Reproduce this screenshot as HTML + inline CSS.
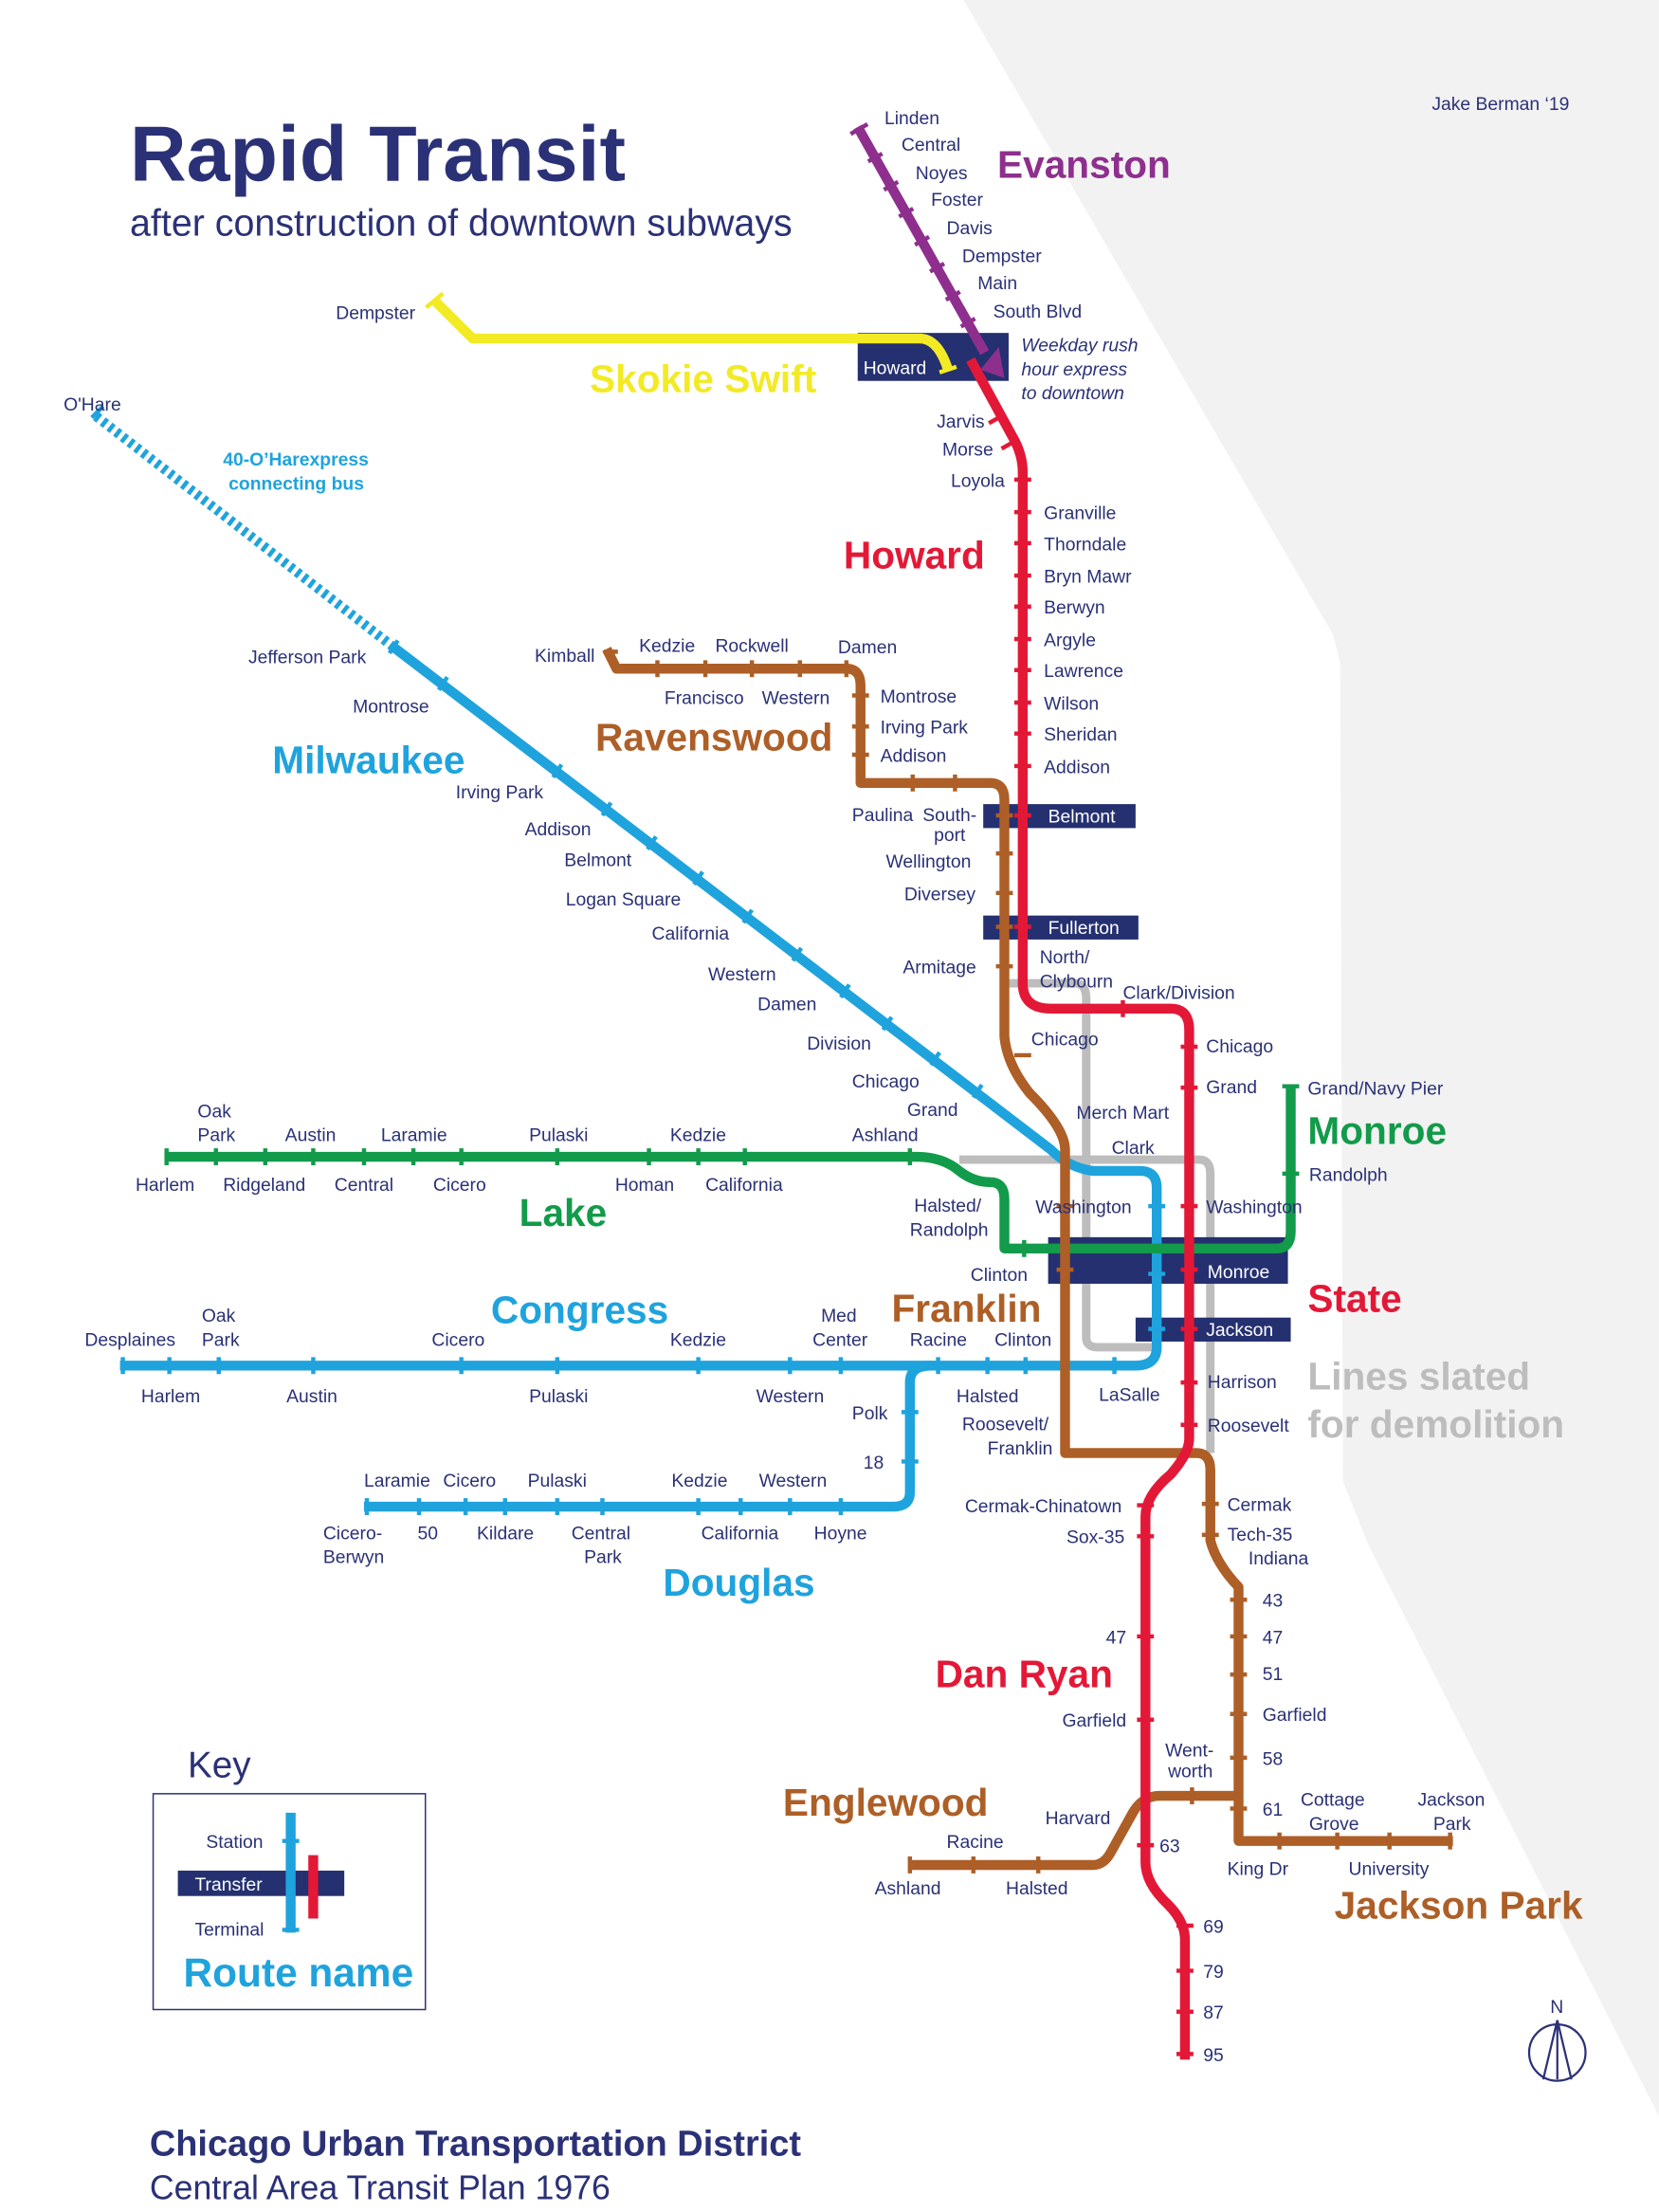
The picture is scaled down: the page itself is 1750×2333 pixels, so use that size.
<!DOCTYPE html>
<html><head><meta charset="utf-8"><style>
html,body{margin:0;padding:0;background:#fff}
svg{display:block}
text{font-family:"Liberation Sans",sans-serif}
.s{font-size:13px;fill:#2b3176}
.w{font-size:13px;fill:#fff}
.r{font-size:27.3px;font-weight:bold}
</style></head><body>
<svg width="1750" height="2333" viewBox="0 0 1176 1568" xmlns="http://www.w3.org/2000/svg">
<rect width="1176" height="1568" fill="#fff"/>
<polygon points="683,0 1176,0 1176,1500 970,1095 952,1050 950,470 945,450" fill="#f2f2f2"/>

<g fill="none" stroke="#bdbdbd" stroke-width="6">
<path d="M712,697 H762 Q770,697 770,708 V948 Q770,955 778,955 H820"/>
<path d="M680,822 H850 Q858,822 858,832 V1030"/>
</g>

<g fill="#253070">
<rect x="608" y="236" width="107" height="34"/>
<rect x="697" y="570" width="108" height="17"/>
<rect x="697" y="649" width="110" height="17"/>
<rect x="743" y="877" width="170" height="33"/>
<rect x="805" y="934" width="110" height="17"/>
</g>

<g fill="none" stroke-width="7" stroke-linejoin="round" stroke-linecap="butt">
<path d="M308,213 L335,240 H652 Q665,240 672,262" stroke="#f3ea26"/>
<path d="M608,90 L698,250" stroke="#8e2f8e"/>
<path d="M68,295 L278,458" stroke="#1fa3dd" stroke-dasharray="3,3"/>
<path d="M278,458 L745,815 Q758,828 775,830 H808 Q820,830 820,842 V955 Q820,968 805,968 H85" stroke="#1fa3dd"/>
<path d="M660,968 Q645,968 645,980 V1058 Q645,1068 633,1068 H258" stroke="#1fa3dd"/>
<path d="M118,820 H650 Q668,820 680,830 Q690,838 702,838 Q712,838 712,850 V885 H905 Q915,885 915,873 V770" stroke="#129b4a"/>
<path d="M430,460 L437,474 H600 Q610,474 610,486 V555 H702 Q712,555 712,567 V735 Q714,755 730,775 Q755,800 755,815 V1030 H848 Q858,1030 858,1042 V1092 Q862,1108 878,1125 V1305 H1030" stroke="#ad5f27"/>
<path d="M645,1322 H775 Q783,1322 788,1312 L803,1285 Q810,1273 822,1273 H878" stroke="#ad5f27"/>
<path d="M688,255 L718,310 Q725,322 725,335 V697 Q725,715 745,715 H830 Q843,715 843,730 V1020 Q843,1030 830,1045 Q812,1060 812,1075 V1320 Q812,1335 828,1350 Q840,1362 840,1375 V1460" stroke="#e31837"/>
</g>
<polygon points="695,262 712,268 708,246" fill="#8e2f8e"/>

<g stroke-width="3" fill="none">
<g stroke="#8e2f8e"><path d="M603,95 l12,-7 M615.4,114.5 l10,-5.6 M626.6,134.5 l10,-5.6 M637.3,153.5 l10,-5.6 M648.6,173.5 l10,-5.6 M659.3,192.5 l10,-5.6 M670.5,212.5 l10,-5.6 M681.2,231.5 l10,-5.6"/></g>
<g stroke="#f3ea26"><path d="M302,218 l12,-10 M666,264 l12,-4"/></g>
<g stroke="#e31837"><path d="M701,300 l10,-5.6 M710,318 l10,-5.6 M719,340 h12 M719,363 h12 M719,385 h12 M719,408 h12 M719,430 h12 M719,453 h12 M719,475 h12 M719,498 h12 M719,520 h12 M719,543 h12 M719,578 h12 M719,657 h12 M796,709 v12 M837,742 h12 M837,771 h12 M837,855 h12 M837,900 h12 M837,942 h12 M837,980 h12 M837,1010 h12 M806,1067 h12 M806,1089 h12 M806,1160 h12 M806,1219 h12 M806,1308 h12 M834,1365 h12 M834,1397 h12 M834,1426 h12 M834,1456 h12"/></g>
<g stroke="#1fa3dd"><path d="M65,296 l8,-8 M276,463 l6,-9 M311,489 l6,-9 M392,551 l6,-9 M427,578 l6,-9 M459,602 l6,-9 M492,627 l6,-9 M527,654 l6,-9 M562,681 l6,-9 M596,707 l6,-9 M626,730 l6,-9 M660,755 l6,-9 M690,778 l6,-9 M814,855 h12 M814,903 h12 M814,942 h12 M87,962 v12 M120,962 v12 M155,962 v12 M222,962 v12 M327,962 v12 M395,962 v12 M495,962 v12 M560,962 v12 M596,962 v12 M665,962 v12 M700,962 v12 M727,962 v12 M790,962 v12 M639,1001 h12 M639,1036 h12 M260,1062 v12 M297,1062 v12 M330,1062 v12 M358,1062 v12 M395,1062 v12 M427,1062 v12 M495,1062 v12 M525,1062 v12 M560,1062 v12 M596,1062 v12"/></g>
<g stroke="#129b4a"><path d="M118,814 v12 M153,814 v12 M188,814 v12 M222,814 v12 M258,814 v12 M293,814 v12 M327,814 v12 M395,814 v12 M460,814 v12 M495,814 v12 M528,814 v12 M645,814 v12 M909,770 h12 M909,832 h12 M726,879 v12"/></g>
<g stroke="#ad5f27"><path d="M428,462 h10 M466,468 v12 M500,468 v12 M533,468 v12 M567,468 v12 M600,468 v12 M604,493 h12 M604,515 h12 M604,535 h12 M647,549 v12 M677,549 v12 M706,578 h12 M706,605 h12 M706,633 h12 M706,657 h12 M706,685 h12 M719,748 h12 M749,855 h12 M749,900 h12 M852,1066 h12 M852,1088 h12 M872,1134 h12 M872,1160 h12 M872,1187 h12 M872,1215 h12 M872,1246 h12 M872,1282 h12 M907,1299 v12 M948,1299 v12 M985,1299 v12 M1028,1299 v12 M845,1267 v12 M645,1316 v12 M690,1316 v12 M736,1316 v12"/></g>
</g>

<text x="92" y="128" font-size="55.5" font-weight="bold" fill="#2b3176">Rapid Transit</text>
<text x="92" y="167" font-size="26.5" fill="#2b3176">after construction of downtown subways</text>
<text x="1015" y="78" class="s">Jake Berman ‘19</text>

<text x="707" y="126" class="r" fill="#8e2f8e">Evanston</text>
<text x="418" y="278" class="r" fill="#f3ea26">Skokie Swift</text>
<text x="598" y="403" class="r" fill="#e31837">Howard</text>
<text x="193" y="548" class="r" fill="#1fa3dd">Milwaukee</text>
<text x="422" y="532" class="r" fill="#ad5f27">Ravenswood</text>
<text x="927" y="811" class="r" fill="#129b4a">Monroe</text>
<text x="368" y="869" class="r" fill="#129b4a">Lake</text>
<text x="348" y="938" class="r" fill="#1fa3dd">Congress</text>
<text x="632" y="937" class="r" fill="#ad5f27">Franklin</text>
<text x="927" y="930" class="r" fill="#e31837">State</text>
<text x="927" y="985" class="r" fill="#bdbdbd">Lines slated</text>
<text x="927" y="1019" class="r" fill="#bdbdbd">for demolition</text>
<text x="470" y="1131" class="r" fill="#1fa3dd">Douglas</text>
<text x="663" y="1196" class="r" fill="#e31837">Dan Ryan</text>
<text x="555" y="1287" class="r" fill="#ad5f27">Englewood</text>
<text x="946" y="1360" class="r" fill="#ad5f27">Jackson Park</text>

<g class="s">
<text x="627" y="88" class="s">Linden</text><text x="639" y="107" class="s">Central</text><text x="649" y="127" class="s">Noyes</text><text x="660" y="146" class="s">Foster</text><text x="671" y="166" class="s">Davis</text><text x="682" y="186" class="s">Dempster</text><text x="693" y="205" class="s">Main</text><text x="704" y="225" class="s">South Blvd</text>
<text x="238" y="226" class="s">Dempster</text>
<text x="612" y="265" class="w">Howard</text>
<text x="724" y="249" class="s" font-style="italic">Weekday rush</text><text x="724" y="266" class="s" font-style="italic">hour express</text><text x="724" y="283" class="s" font-style="italic">to downtown</text>
<text x="664" y="303" class="s">Jarvis</text><text x="668" y="323" class="s">Morse</text><text x="674" y="345" class="s">Loyola</text>
<text x="740" y="368" class="s">Granville</text><text x="740" y="390" class="s">Thorndale</text><text x="740" y="413" class="s">Bryn Mawr</text><text x="740" y="435" class="s">Berwyn</text><text x="740" y="458" class="s">Argyle</text><text x="740" y="480" class="s">Lawrence</text><text x="740" y="503" class="s">Wilson</text><text x="740" y="525" class="s">Sheridan</text><text x="740" y="548" class="s">Addison</text>
<text x="743" y="583" class="w">Belmont</text><text x="743" y="662" class="w">Fullerton</text>
<text x="45" y="291" class="s">O'Hare</text>
<text x="158" y="330" font-size="13" font-weight="bold" fill="#1fa3dd">40-O’Harexpress</text>
<text x="162" y="347" font-size="13" font-weight="bold" fill="#1fa3dd">connecting bus</text>
<text x="176" y="470" class="s">Jefferson Park</text><text x="250" y="505" class="s">Montrose</text><text x="323" y="566" class="s">Irving Park</text><text x="372" y="592" class="s">Addison</text><text x="400" y="614" class="s">Belmont</text><text x="401" y="642" class="s">Logan Square</text><text x="462" y="666" class="s">California</text><text x="502" y="695" class="s">Western</text><text x="537" y="716" class="s">Damen</text><text x="572" y="744" class="s">Division</text><text x="604" y="771" class="s">Chicago</text><text x="643" y="791" class="s">Grand</text>
<text x="379" y="469" class="s">Kimball</text><text x="453" y="462" class="s">Kedzie</text><text x="507" y="462" class="s">Rockwell</text><text x="594" y="463" class="s">Damen</text>
<text x="471" y="499" class="s">Francisco</text><text x="540" y="499" class="s">Western</text>
<text x="624" y="498" class="s">Montrose</text><text x="624" y="520" class="s">Irving Park</text><text x="624" y="540" class="s">Addison</text>
<text x="604" y="582" class="s">Paulina</text><text x="654" y="582" class="s">South-</text><text x="662" y="596" class="s">port</text>
<text x="628" y="615" class="s">Wellington</text><text x="641" y="638" class="s">Diversey</text><text x="640" y="690" class="s">Armitage</text>
<text x="737" y="683" class="s">North/</text><text x="737" y="700" class="s">Clybourn</text>
<text x="796" y="708" class="s">Clark/Division</text><text x="731" y="741" class="s">Chicago</text>
<text x="855" y="746" class="s">Chicago</text><text x="855" y="775" class="s">Grand</text>
<text x="763" y="793" class="s">Merch Mart</text><text x="788" y="818" class="s">Clark</text>
<text x="927" y="776" class="s">Grand/Navy Pier</text><text x="928" y="837" class="s">Randolph</text>
<text x="734" y="860" class="s">Washington</text><text x="855" y="860" class="s">Washington</text>
<text x="648" y="859" class="s">Halsted/</text><text x="645" y="876" class="s">Randolph</text>
<text x="688" y="908" class="s">Clinton</text><text x="856" y="906" class="w">Monroe</text><text x="855" y="947" class="w">Jackson</text>
<text x="140" y="792" class="s">Oak</text><text x="140" y="809" class="s">Park</text><text x="202" y="809" class="s">Austin</text><text x="270" y="809" class="s">Laramie</text><text x="375" y="809" class="s">Pulaski</text><text x="475" y="809" class="s">Kedzie</text><text x="604" y="809" class="s">Ashland</text>
<text x="96" y="844" class="s">Harlem</text><text x="158" y="844" class="s">Ridgeland</text><text x="237" y="844" class="s">Central</text><text x="307" y="844" class="s">Cicero</text><text x="436" y="844" class="s">Homan</text><text x="500" y="844" class="s">California</text>
<text x="143" y="937" class="s">Oak</text><text x="143" y="954" class="s">Park</text><text x="60" y="954" class="s">Desplaines</text><text x="306" y="954" class="s">Cicero</text><text x="475" y="954" class="s">Kedzie</text><text x="582" y="937" class="s">Med</text><text x="576" y="954" class="s">Center</text><text x="645" y="954" class="s">Racine</text><text x="705" y="954" class="s">Clinton</text>
<text x="100" y="994" class="s">Harlem</text><text x="203" y="994" class="s">Austin</text><text x="375" y="994" class="s">Pulaski</text><text x="536" y="994" class="s">Western</text><text x="678" y="994" class="s">Halsted</text><text x="779" y="993" class="s">LaSalle</text>
<text x="604" y="1006" class="s">Polk</text><text x="612" y="1041" class="s">18</text>
<text x="682" y="1014" class="s">Roosevelt/</text><text x="700" y="1031" class="s">Franklin</text>
<text x="856" y="984" class="s">Harrison</text><text x="856" y="1015" class="s">Roosevelt</text>
<text x="258" y="1054" class="s">Laramie</text><text x="314" y="1054" class="s">Cicero</text><text x="374" y="1054" class="s">Pulaski</text><text x="476" y="1054" class="s">Kedzie</text><text x="538" y="1054" class="s">Western</text>
<text x="229" y="1091" class="s">Cicero-</text><text x="229" y="1108" class="s">Berwyn</text><text x="296" y="1091" class="s">50</text><text x="338" y="1091" class="s">Kildare</text><text x="405" y="1091" class="s">Central</text><text x="414" y="1108" class="s">Park</text><text x="497" y="1091" class="s">California</text><text x="577" y="1091" class="s">Hoyne</text>
<text x="684" y="1072" class="s">Cermak-Chinatown</text><text x="756" y="1094" class="s">Sox-35</text>
<text x="870" y="1071" class="s">Cermak</text><text x="870" y="1092" class="s">Tech-35</text><text x="885" y="1109" class="s">Indiana</text>
<text x="895" y="1139" class="s">43</text><text x="895" y="1165" class="s">47</text><text x="895" y="1191" class="s">51</text><text x="895" y="1220" class="s">Garfield</text><text x="895" y="1251" class="s">58</text><text x="895" y="1287" class="s">61</text>
<text x="784" y="1165" class="s">47</text><text x="753" y="1224" class="s">Garfield</text>
<text x="826" y="1245" class="s">Went-</text><text x="828" y="1260" class="s">worth</text>
<text x="741" y="1293" class="s">Harvard</text><text x="671" y="1310" class="s">Racine</text><text x="620" y="1343" class="s">Ashland</text><text x="713" y="1343" class="s">Halsted</text>
<text x="822" y="1313" class="s">63</text>
<text x="922" y="1280" class="s">Cottage</text><text x="928" y="1297" class="s">Grove</text><text x="1005" y="1280" class="s">Jackson</text><text x="1016" y="1297" class="s">Park</text>
<text x="870" y="1329" class="s">King Dr</text><text x="956" y="1329" class="s">University</text>
<text x="853" y="1370" class="s">69</text><text x="853" y="1402" class="s">79</text><text x="853" y="1431" class="s">87</text><text x="853" y="1461" class="s">95</text>
</g>

<text x="133" y="1260" font-size="26" fill="#2b3176">Key</text>
<rect x="108.5" y="1271.5" width="193" height="153" fill="none" stroke="#2b3176" stroke-width="1"/>
<rect x="126" y="1326" width="118" height="18" fill="#253070"/>
<line x1="206" y1="1285" x2="206" y2="1370" stroke="#1fa3dd" stroke-width="7"/>
<line x1="200" y1="1305" x2="212" y2="1305" stroke="#1fa3dd" stroke-width="3"/>
<line x1="200" y1="1368" x2="212" y2="1368" stroke="#1fa3dd" stroke-width="3"/>
<line x1="222" y1="1315" x2="222" y2="1360" stroke="#e31837" stroke-width="7"/>
<text x="146" y="1310" class="s">Station</text>
<text x="138" y="1340" class="w">Transfer</text>
<text x="138" y="1372" class="s">Terminal</text>
<text x="130" y="1408" font-size="28.5" font-weight="bold" fill="#1fa3dd">Route name</text>

<text x="1099" y="1427" class="s" font-size="12">N</text>
<circle cx="1104" cy="1455" r="20" fill="none" stroke="#2b3176" stroke-width="1.5"/>
<path d="M1104,1432 L1094,1474 M1104,1432 L1114,1474 M1104,1432 V1474" stroke="#2b3176" stroke-width="1.5" fill="none"/>

<text x="106" y="1528" font-size="25.5" font-weight="bold" fill="#2b3176">Chicago Urban Transportation District</text>
<text x="106" y="1559" font-size="24" fill="#2b3176">Central Area Transit Plan 1976</text>
</svg>
</body></html>
